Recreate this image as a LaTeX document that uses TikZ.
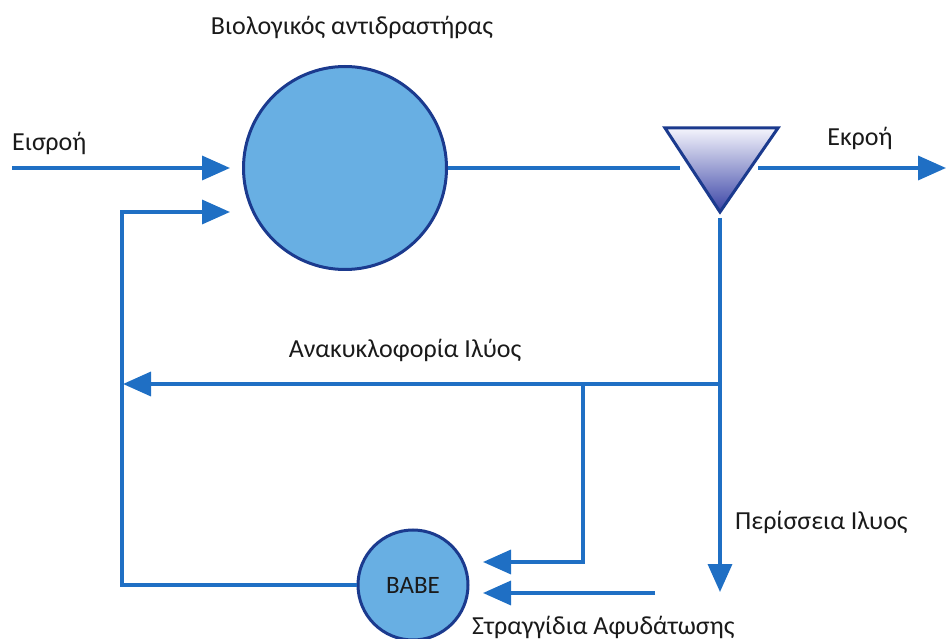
\documentclass[tikz,border=0pt]{standalone}
\usepackage{fontspec}
\setmainfont{Carlito}
\usetikzlibrary{arrows.meta,calc}
\definecolor{flow}{HTML}{1F6FC4}
\definecolor{tank}{HTML}{68AFE3}
\definecolor{rim}{HTML}{1B3A8E}
\definecolor{txt}{HTML}{1A1A1A}
\definecolor{sepTop}{HTML}{F4F4FC}
\definecolor{sepBot}{HTML}{3A44A6}
\begin{document}
\begin{tikzpicture}[x=1pt,y=-1pt,
  flowline/.style={draw=flow, line width=3.5pt},
  tipped/.style={-{Triangle[length=28pt,width=24pt]}},
  lbl/.style={font=\fontsize{26}{30}\selectfont, text=txt, inner sep=0pt},
  vessel/.style={circle, fill=tank, draw=rim, line width=3pt, inner sep=0pt}]
\useasboundingbox (0,0) rectangle (946,639);

% vessels
\node[vessel, minimum size=203pt] (reactor) at (345,168) {};
\node[vessel, minimum size=110pt, font=\fontsize{25}{28}\selectfont, text=txt] (babe) at (413,585) {BABE};

% settler triangle
\coordinate (tl) at (665,128);
\coordinate (tr) at (778,128);
\coordinate (tb) at (720,212);
\shade[top color=sepTop, bottom color=sepBot] (tl) -- (tr) -- (tb) -- cycle;
\draw[rim, line width=3pt, line join=miter] (tl) -- (tr) -- (tb) -- cycle;

% coordinates for connectors
\coordinate (inStart) at (12,168);
\coordinate (inTip) at (230,168);
\coordinate (recTip) at (230,212);
\coordinate (loopTop) at (122,212);
\coordinate (loopBot) at (122,585);
\coordinate (sepIn) at (680,168);
\coordinate (sepOut) at (758,168);
\coordinate (effTip) at (946,168);
\coordinate (sepDown) at (720,218);
\coordinate (wasTip) at (720,592);
\coordinate (recJ) at (720,384);
\coordinate (recEnd) at (123,384);
\coordinate (brTop) at (583,384);
\coordinate (brBot) at (583,562);
\coordinate (brTip) at (483,562);
\coordinate (dwStart) at (655,593);
\coordinate (dwTip) at (483,593);

% connectors
\draw[flowline,tipped] (inStart) -- (inTip);
\draw[flowline] (reactor.east) -- (sepIn);
\draw[flowline,tipped] (sepOut) -- (effTip);
\draw[flowline,tipped] (sepDown) -- (wasTip);
\draw[flowline,tipped] (recJ) -- (recEnd);
\draw[flowline,tipped] (brTop) -- (brBot) -- (brTip);
\draw[flowline,tipped] (dwStart) -- (dwTip);
\draw[flowline,tipped] (babe.west) -- (loopBot) -- (loopTop) -- (recTip);

% labels
\node[lbl] (lReactor) at (352,27) {Βιολογικός αντιδραστήρας};
\node[lbl, anchor=west] (lIn) at (12,143) {Εισροή};
\node[lbl] (lOut) at (860,138) {Εκροή};
\node[lbl] (lRec) at (405,350) {Ανακυκλοφορία Ιλύος};
\node[lbl, anchor=west] (lWas) at (735,522) {Περίσσεια Ιλυος};
\node[lbl, anchor=west] (lDw) at (472,627) {Στραγγίδια Αφυδάτωσης};
\end{tikzpicture}
\end{document}
